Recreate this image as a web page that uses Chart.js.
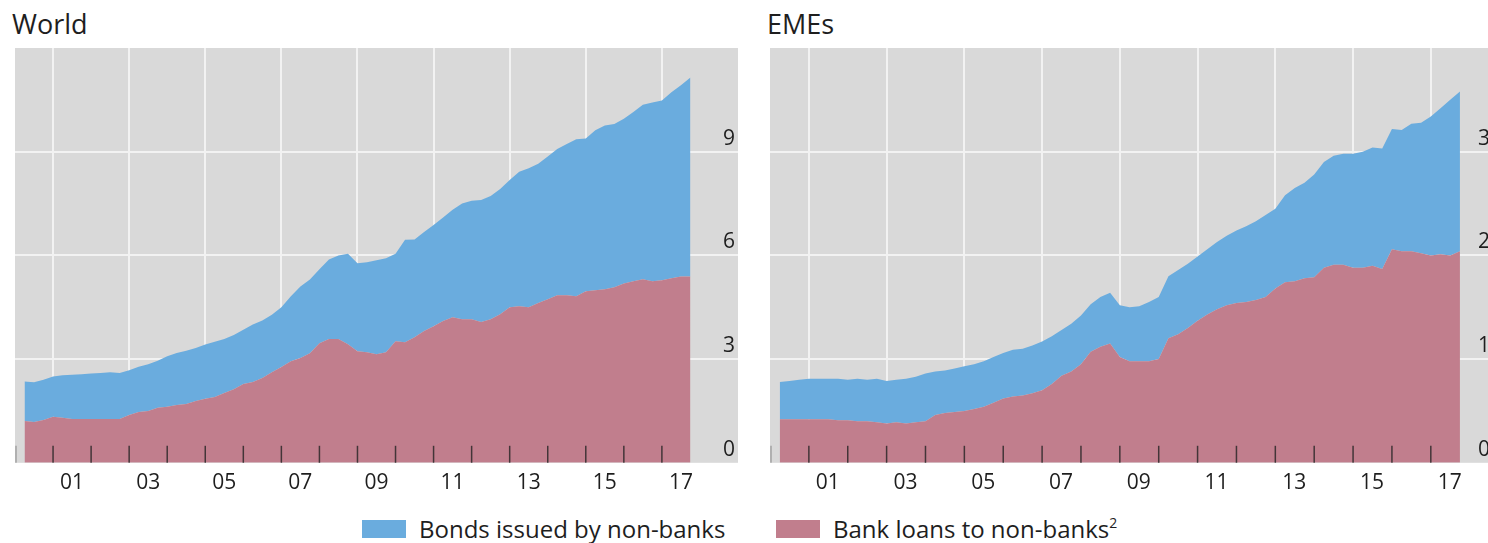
<!DOCTYPE html>
<html>
<head>
<meta charset="utf-8">
<script src="https://cdn.jsdelivr.net/npm/chart.js@4.4.1/dist/chart.umd.min.js"></script>
<style>
  body { margin: 0; width: 1488px; height: 543px; overflow: hidden; background: #fff; position: relative;
         font-family: "Open Sans", Lato, sans-serif; color: #1e1e1e; }
  .title { position: absolute; top: 10px; font-size: 27px; line-height: 27px; }
  canvas { position: absolute; top: 48px; }
  .leg { position: absolute; top: 517px; font-size: 24px; line-height: 24px; white-space: nowrap; }
  .sw { position: absolute; top: 520px; width: 44px; height: 18px; }
  sup { font-size: 14px; line-height: 0; vertical-align: 10px; }
</style>
</head>
<body>
<div class="title" style="left:12px">World</div>
<div class="title" style="left:767px">EMEs</div>
<canvas id="world" width="723" height="456" style="left:15px"></canvas>
<canvas id="emes" width="723" height="456" style="left:770px"></canvas>
<div class="sw" style="left:362px;background:#6aacde"></div>
<div class="leg" style="left:419px">Bonds issued by non-banks</div>
<div class="sw" style="left:776px;background:#c17e8d"></div>
<div class="leg" style="left:833px">Bank loans to non-banks<sup>2</sup></div>
<script>
// quarterly observations, plotted at the end of each quarter
const quarters = [2000.25, 2000.5, 2000.75, 2001, 2001.25, 2001.5, 2001.75, 2002, 2002.25, 2002.5,
  2002.75, 2003, 2003.25, 2003.5, 2003.75, 2004, 2004.25, 2004.5, 2004.75, 2005,
  2005.25, 2005.5, 2005.75, 2006, 2006.25, 2006.5, 2006.75, 2007, 2007.25, 2007.5,
  2007.75, 2008, 2008.25, 2008.5, 2008.75, 2009, 2009.25, 2009.5, 2009.75, 2010,
  2010.25, 2010.5, 2010.75, 2011, 2011.25, 2011.5, 2011.75, 2012, 2012.25, 2012.5,
  2012.75, 2013, 2013.25, 2013.5, 2013.75, 2014, 2014.25, 2014.5, 2014.75, 2015,
  2015.25, 2015.5, 2015.75, 2016, 2016.25, 2016.5, 2016.75, 2017, 2017.25, 2017.5, 2017.75];

const worldLoans = [1.21, 1.18, 1.24, 1.33, 1.30, 1.27, 1.27, 1.27, 1.27, 1.27,
  1.27, 1.38, 1.47, 1.50, 1.59, 1.62, 1.67, 1.70, 1.79, 1.85,
  1.90, 2.02, 2.13, 2.28, 2.34, 2.45, 2.62, 2.77, 2.94, 3.03,
  3.17, 3.46, 3.58, 3.58, 3.43, 3.23, 3.20, 3.14, 3.20, 3.52,
  3.49, 3.63, 3.81, 3.95, 4.10, 4.21, 4.15, 4.15, 4.07, 4.15,
  4.30, 4.50, 4.53, 4.50, 4.62, 4.73, 4.85, 4.85, 4.82, 4.96,
  4.99, 5.02, 5.08, 5.19, 5.25, 5.31, 5.25, 5.28, 5.34, 5.39, 5.39];
const worldBonds = [1.14, 1.15, 1.16, 1.17, 1.23, 1.28, 1.29, 1.31, 1.33, 1.35,
  1.33, 1.30, 1.31, 1.35, 1.36, 1.46, 1.51, 1.54, 1.53, 1.57,
  1.60, 1.56, 1.57, 1.57, 1.66, 1.67, 1.66, 1.73, 1.88, 2.07,
  2.13, 2.14, 2.30, 2.42, 2.62, 2.54, 2.60, 2.72, 2.72, 2.53,
  2.96, 2.83, 2.87, 2.93, 3.00, 3.11, 3.35, 3.43, 3.53, 3.57,
  3.62, 3.68, 3.89, 4.02, 4.03, 4.13, 4.23, 4.37, 4.54, 4.42,
  4.63, 4.74, 4.72, 4.76, 4.90, 5.05, 5.17, 5.20, 5.38, 5.53, 5.76];

const emeLoans = [0.42, 0.42, 0.42, 0.42, 0.42, 0.42, 0.41, 0.41, 0.40, 0.40,
  0.39, 0.38, 0.39, 0.38, 0.39, 0.40, 0.46, 0.48, 0.49, 0.50,
  0.52, 0.54, 0.58, 0.62, 0.64, 0.65, 0.67, 0.70, 0.76, 0.84,
  0.88, 0.95, 1.07, 1.12, 1.15, 1.02, 0.98, 0.98, 0.98, 1.00,
  1.20, 1.24, 1.30, 1.37, 1.43, 1.48, 1.52, 1.54, 1.55, 1.57,
  1.60, 1.68, 1.74, 1.75, 1.78, 1.79, 1.88, 1.91, 1.91, 1.88,
  1.88, 1.90, 1.87, 2.06, 2.04, 2.04, 2.02, 2.00, 2.01, 2.00, 2.04];
const emeBonds = [0.36, 0.37, 0.38, 0.39, 0.39, 0.39, 0.40, 0.39, 0.41, 0.40,
  0.42, 0.41, 0.41, 0.43, 0.44, 0.46, 0.42, 0.41, 0.42, 0.43,
  0.43, 0.44, 0.44, 0.44, 0.45, 0.45, 0.46, 0.47, 0.46, 0.44,
  0.46, 0.47, 0.46, 0.48, 0.49, 0.50, 0.52, 0.53, 0.57, 0.60,
  0.60, 0.62, 0.62, 0.62, 0.63, 0.65, 0.67, 0.70, 0.73, 0.76,
  0.79, 0.77, 0.84, 0.90, 0.92, 0.99, 1.02, 1.05, 1.07, 1.10,
  1.12, 1.14, 1.16, 1.16, 1.17, 1.23, 1.26, 1.34, 1.41, 1.50, 1.54];

const gridYears = [2001, 2003, 2005, 2007, 2009, 2011, 2013, 2015, 2017];
const tickYears = [2000, 2001, 2002, 2003, 2004, 2005, 2006, 2007, 2008, 2009,
  2010, 2011, 2012, 2013, 2014, 2015, 2016, 2017];
const worldYTicks = [0, 3, 6, 9];
const emeYTicks = [0, 1, 2, 3];

const BLUE = "#6aacde";
const PINK = "#c17e8d";
const GRAY = "#d9d9d9";
const GRID = "#f2f2f2";
const TEXT = "#1e1e1e";

const background = {
  id: "background",
  beforeDraw(chart) {
    const { ctx, chartArea: a } = chart;
    ctx.save();
    ctx.fillStyle = GRAY;
    ctx.fillRect(a.left, a.top, a.right - a.left, a.bottom - a.top);
    ctx.restore();
  }
};

// short year marks standing inside the plot, on top of the areas
const yearMarks = {
  id: "yearMarks",
  afterDatasetsDraw(chart) {
    const { ctx, chartArea: a, scales: { x } } = chart;
    ctx.save();
    ctx.lineWidth = 1.5;
    tickYears.forEach(yr => {
      const px = Math.max(x.getPixelForValue(yr), a.left + 1);
      ctx.strokeStyle = yr === 2000 ? "rgba(60,60,60,0.35)" : "rgba(35,35,35,0.8)";
      ctx.beginPath();
      ctx.moveTo(px, a.bottom - 17);
      ctx.lineTo(px, a.bottom);
      ctx.stroke();
    });
    ctx.restore();
  }
};

function makePanel(id, bonds, loans, yMax, yTicks, xMax) {
  new Chart(document.getElementById(id), {
    type: "line",
    data: {
      labels: quarters,
      datasets: [
        { label: "Bank loans to non-banks", data: loans, backgroundColor: PINK, borderWidth: 0, pointRadius: 0, fill: "origin" },
        { label: "Bonds issued by non-banks", data: bonds, backgroundColor: BLUE, borderWidth: 0, pointRadius: 0, fill: "-1" }
      ]
    },
    options: {
      responsive: false,
      animation: false,
      devicePixelRatio: 1,
      layout: { padding: 0 },
      plugins: { legend: { display: false }, tooltip: { enabled: false } },
      scales: {
        x: {
          type: "linear", min: 2000, max: xMax,
          afterBuildTicks: s => { s.ticks = gridYears.map(v => ({ value: v })); },
          afterFit: s => { s.paddingLeft = 0; s.paddingRight = 0; },
          grid: { color: GRID, lineWidth: 2, drawTicks: false },
          border: { display: false },
          ticks: {
            padding: 8, labelOffset: 19, maxRotation: 0, autoSkip: false, color: TEXT,
            font: { family: "Open Sans", size: 21 },
            callback: v => String(v % 100).padStart(2, "0")
          }
        },
        y: {
          position: "right", stacked: true, min: 0, max: yMax,
          afterBuildTicks: s => { s.ticks = yTicks.map(v => ({ value: v })); },
          afterFit: s => { s.paddingTop = 0; s.paddingBottom = 0; },
          grid: { color: c => (c.tick && c.tick.value === 0) ? "rgba(0,0,0,0)" : GRID, lineWidth: 2, drawTicks: false },
          border: { display: false },
          ticks: { mirror: true, padding: -3, labelOffset: -13, color: TEXT, font: { family: "Open Sans", size: 21 } }
        }
      }
    },
    plugins: [background, yearMarks]
  });
}

makePanel("world", worldBonds, worldLoans, 12, worldYTicks, 2019);
makePanel("emes", emeBonds, emeLoans, 4, emeYTicks, 2018.6);
</script>
</body>
</html>
